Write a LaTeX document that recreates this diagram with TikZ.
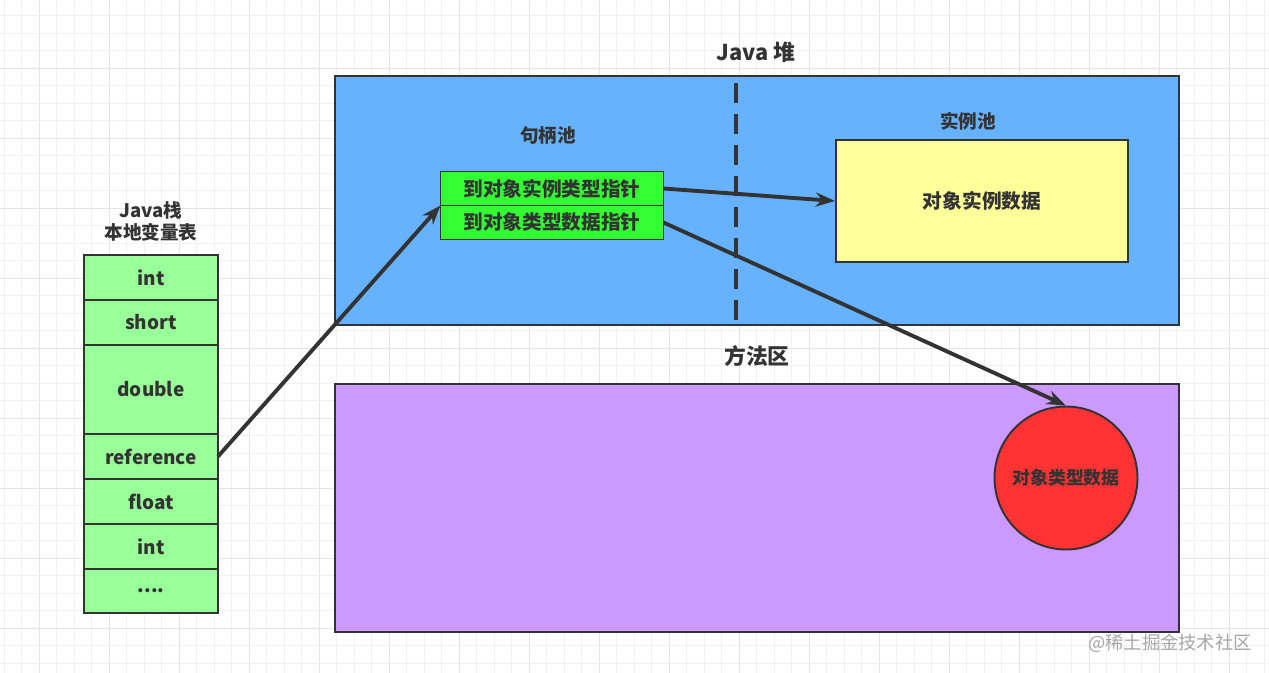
\documentclass[tikz,border=0pt]{standalone}
\usepackage{fontspec}
\setmainfont{Noto Sans CJK SC}
\usetikzlibrary{arrows.meta,positioning}
\definecolor{gridminor}   {RGB}{241,241,241}
\definecolor{gridmajor}   {RGB}{228,228,228}
\definecolor{inkgray}     {RGB}{51,51,51}
\definecolor{heapblue}    {RGB}{102,178,255}
\definecolor{methodpurple}{RGB}{204,153,255}
\definecolor{slotgreen}   {RGB}{153,255,153}
\definecolor{ptrgreen}    {RGB}{51,255,51}
\definecolor{datayellow}  {RGB}{255,255,153}
\definecolor{classred}    {RGB}{255,51,51}
\tikzset{
  areabox/.style ={draw=inkgray, line width=1.1pt, minimum width=16.88cm,
                   minimum height=4.97cm, inner sep=0pt},
  slotbox/.style ={draw=inkgray, line width=1.1pt, fill=slotgreen,
                   minimum width=2.68cm, minimum height=#1, inner sep=0pt,
                   outer sep=0pt, text=inkgray,
                   font=\fontsize{10.8}{13}\selectfont\bfseries},
  slotbox/.default=0.9cm,
  ptrbox/.style  ={draw=inkgray, line width=1.1pt, fill=ptrgreen,
                   minimum width=4.46cm, minimum height=0.68cm, inner sep=0pt,
                   outer sep=0pt, text=inkgray,
                   font=\fontsize{11.2}{13}\selectfont\bfseries},
  title/.style   ={text=inkgray, align=center,
                   font=\fontsize{12.4}{14}\selectfont\bfseries},
  label/.style   ={text=inkgray, align=center,
                   font=\fontsize{10.6}{12.5}\selectfont\bfseries},
  arr/.style     ={-{Stealth[length=11pt,width=8pt]}, line width=2.2pt,
                   draw=inkgray},
  divider/.style ={line width=2.3pt, draw=inkgray,
                   dash pattern=on 0.4cm off 0.22cm},
}

\begin{document}
\begin{tikzpicture}[x=0.02cm,y=-0.02cm]
  \useasboundingbox (0,0) rectangle (1269,673);
  %% background grid
  \foreach \k in {0,...,72}{
    \pgfmathtruncatemacro\major{mod(\k,4)==2}
    \ifnum\major=1 \def\gc{gridmajor}\else\def\gc{gridminor}\fi
    \draw[\gc, line width=0.5pt] (4.3+17.5*\k,0) -- (4.3+17.5*\k,673);
  }
  \foreach \k in {0,...,38}{
    \pgfmathtruncatemacro\major{mod(\k,4)==3}
    \ifnum\major=1 \def\gc{gridmajor}\else\def\gc{gridminor}\fi
    \draw[\gc, line width=0.5pt] (0,15.5+17.5*\k) -- (1269,15.5+17.5*\k);
  }

  %% Java stack
  \node[label] (stacktitle) at (151,221) {Java栈\\本地变量表};
  \node[slotbox] (slot0) at (151,277.5) {int};
  \node[slotbox, below=0pt of slot0] (slot1) {short};
  \node[slotbox=1.78cm, below=0pt of slot1] (slot2) {double};
  \node[slotbox, below=0pt of slot2] (slot3) {reference};
  \node[slotbox, below=0pt of slot3] (slot4) {float};
  \node[slotbox, below=0pt of slot4] (slot5) {int};
  \node[slotbox=0.88cm, below=0pt of slot5] (slot6) {....};

  %% heap
  \node[title] (heaptitle) at (756,52) {Java 堆};
  \node[areabox, fill=heapblue] (heap) at (757,200.5) {};
  \coordinate (dtop) at (736,83);
  \coordinate (dbot) at (736,325);
  \draw[divider] (dtop) -- (dbot);
  \node[label] (handletitle) at (548,135) {句柄池};
  \node[label] (insttitle) at (968,121) {实例池};
  \node[ptrbox] (ptrA) at (552,188.5) {到对象实例类型指针};
  \node[ptrbox, below=0pt of ptrA] (ptrB) {到对象类型数据指针};
  \node[draw=inkgray, line width=1.1pt, fill=datayellow, minimum width=5.84cm,
        minimum height=2.44cm, text=inkgray,
        font=\fontsize{11.2}{13}\selectfont\bfseries] (inst) at (982,201) {对象实例数据};

  %% method area
  \node[title] (methodtitle) at (757,356) {方法区};
  \node[areabox, fill=methodpurple] (method) at (757,508) {};
  \node[circle, draw=inkgray, line width=1.1pt, fill=classred, minimum size=2.86cm,
        inner sep=0pt, text=inkgray,
        font=\fontsize{10.2}{12}\selectfont\bfseries] (cls) at (1066,478) {对象类型数据};

  %% references
  \draw[arr] (slot3.east) -- (ptrA.south west);
  \draw[arr] (ptrA.east) -- (inst.west);
  \draw[arr] (ptrB.east) -- (cls.north);

  \node[text=black!35, font=\fontsize{10.4}{12}\selectfont] (mark) at (1170,643) {@稀土掘金技术社区};
\end{tikzpicture}
\end{document}
